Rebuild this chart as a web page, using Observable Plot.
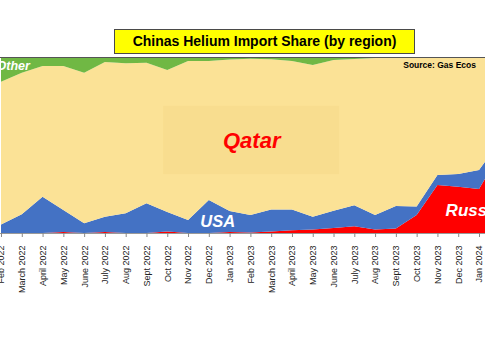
<!DOCTYPE html>
<html>
<head>
<meta charset="utf-8">
<script src="https://cdn.jsdelivr.net/npm/d3@7"></script>
<script src="https://cdn.jsdelivr.net/npm/@observablehq/plot@0.6"></script>
<style>
  html, body { margin: 0; padding: 0; background: #fff; overflow: hidden; }
  #wrap { position: relative; width: 485px; height: 360px; overflow: hidden; font-family: Arial, "Liberation Sans", sans-serif; }
  #title { position: absolute; left: 114px; top: 29px; width: 301px; height: 25px; box-sizing: border-box;
    border: 1px solid #4a4a4a; background: #ffff00; font: bold 14px Arial, "Liberation Sans", sans-serif;
    text-align: center; line-height: 23px; color: #000; z-index: 2; }
  #chart svg { display: block; }
</style>
</head>
<body>
<div id="wrap">
  <div id="chart"></div>
  <div id="title">Chinas Helium Import Share (by region)</div>
</div>
<script>
const months = ["Feb 2022","March 2022","April 2022","May 2022","June 2022","July 2022","Aug 2022","Sept 2022","Oct 2022","Nov 2022","Dec 2022","Jan 2023","Feb 2023","March 2023","April 2023","May 2023","June 2023","July 2023","Aug 2023","Sept 2023","Oct 2023","Nov 2023","Dec 2023","Jan 2024","Feb 2024"];
const regions = ["Russia","USA","Qatar","Other"];
const russia = [0,0,0,0.5,0,0.5,0,0,0.8,0,0,0.5,0.3,0.8,1.5,2,2.8,3.8,2,2.6,10.2,27.3,26.3,25,45];
const usa    = [4.9,10.6,20.6,12.6,5.5,8.8,11.2,16.9,11.1,7.4,18.7,12,9.9,12.6,11.9,7.3,9.9,11.9,8.2,12.7,4.8,5.7,7.2,10.8,7];
const qatar  = [81.1,80.4,74.3,81.8,85.6,87.9,85.2,79.9,80.7,90.3,79,86.1,88.8,85.3,84.3,86.2,85.6,83.2,89.2,84.5,85,67,66.5,64.2,48];
const other  = [14,9,5.1,5.1,8.9,2.8,3.6,3.2,7.4,2.3,2.3,1.4,1,1.3,2.3,4.5,1.7,1.1,0.6,0.2,0,0,0,0,0];
const colors = ["#ff0000","#4472c4","#fbe296","#70b844"];

const series = {Russia: russia, USA: usa, Qatar: qatar, Other: other};
const data = [];
months.forEach((m, i) => {
  for (const r of regions) data.push({i, month: m, region: r, value: series[r][i]});
});

const step = 478 / 23;
const xDomain = [-1 / step, 484 / step];
const tickIdx = d3.range(months.length).filter(i => i <= xDomain[1]);

const chart = Plot.plot({
  width: 485,
  height: 360,
  marginTop: 57,
  marginBottom: 127,
  marginLeft: 0,
  marginRight: 0,
  style: {fontFamily: "Arial, 'Liberation Sans', sans-serif", background: "#fff", overflow: "hidden"},
  x: {type: "linear", domain: xDomain, axis: null, label: null},
  y: {domain: [0, 100], axis: null, label: null},
  color: {domain: regions, range: colors},
  marks: [
    Plot.areaY(data, {x: "i", y: "value", fill: "region", order: regions, curve: "linear", clip: true}),
    Plot.rect([0], {x1: 7.8, x2: 16.27, y1: 33.5, y2: 72.2, fill: "#f4d784", fillOpacity: 0.4}),
    Plot.ruleY([100], {stroke: "#555", strokeWidth: 1.2}),
    Plot.ruleY([0], {stroke: "#999"}),
    Plot.axisX(tickIdx, {tickFormat: i => months[i], tickRotate: -90, tickSize: 4, tickPadding: 8,
      fontSize: 9, stroke: "#888", fill: "#222", label: null}),
    Plot.text(["Qatar"], {x: 12.04, y: 52.8, fill: "#ff0000", fontSize: 22, fontWeight: "bold", fontStyle: "italic"}),
    Plot.text(["USA"], {x: 10.4, y: 6.5, fill: "#fff", fontSize: 16.5, fontWeight: "bold", fontStyle: "italic"}),
    Plot.text(["Russia"], {x: 21.37, y: 13.3, fill: "#fff", fontSize: 17, fontWeight: "bold", fontStyle: "italic", textAnchor: "start"}),
    Plot.text(["Other"], {x: -0.24, y: 94.9, fill: "#fff", fontSize: 12.5, fontWeight: "bold", fontStyle: "italic", textAnchor: "start"}),
    Plot.text(["Source: Gas Ecos"], {x: 19.33, y: 95.8, fill: "#000", fontSize: 8.5, fontWeight: "bold", textAnchor: "start"})
  ]
});
document.getElementById("chart").appendChild(chart);
</script>
</body>
</html>
